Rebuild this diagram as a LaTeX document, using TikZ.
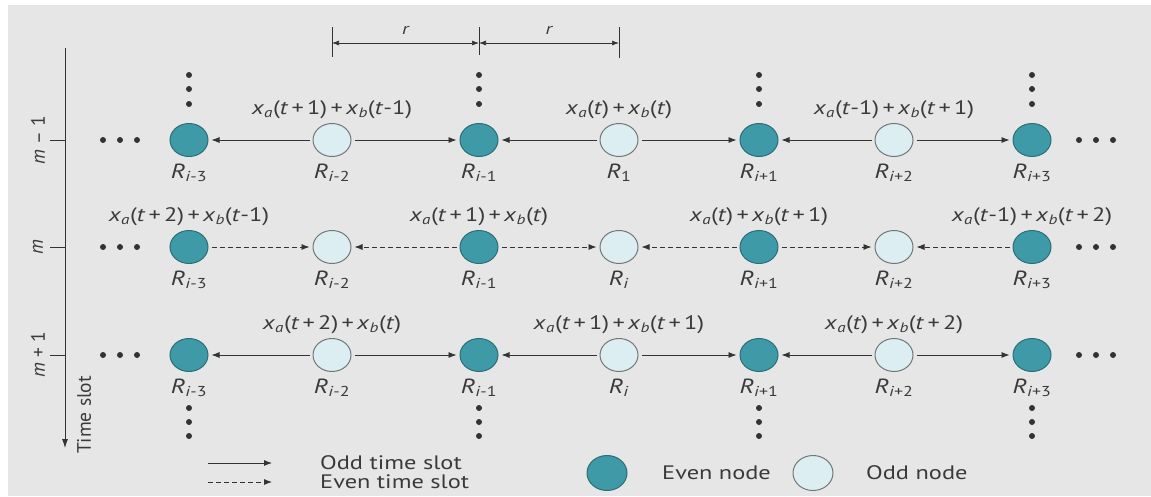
\documentclass[tikz,border=0pt]{standalone}
\usepackage{fontspec}
\setmainfont{PT Sans}[FakeStretch=1.25]
\newfontfamily\uprightsans{PT Sans}[Ligatures=TeX]
\usetikzlibrary{arrows.meta, positioning, shapes.geometric}
\usepackage{xcolor}
\definecolor{cBg}{HTML}{E6E6E6}
\definecolor{cTeal}{HTML}{3E9AA6}
\definecolor{cTealD}{HTML}{2B6E77}
\definecolor{cIce}{HTML}{DCEEF2}
\definecolor{cRim}{HTML}{6E7878}
\definecolor{cLine}{HTML}{333333}
\definecolor{cText}{HTML}{3A3A3A}
\newcommand{\tv}{\textit{t}}
\newcommand{\iv}{\textit{i}}
\newcommand{\pl}{\,+\,}
\newcommand{\xab}[2]{\textit{x}\textsubscript{\textit{a}}(#1)\pl\textit{x}\textsubscript{\textit{b}}(#2)}
\newcommand{\rsub}[1]{\textit{R}\textsubscript{#1}}

\begin{document}
\begin{tikzpicture}[
  x=1pt, y=-1pt, font=\fontsize{19.5}{21}\selectfont, text=cText,
  rnode/.style={ellipse, line width=1pt, minimum width=38pt, minimum height=33pt, inner sep=0pt},
  evennode/.style={rnode, fill=cTeal, draw=cTealD},
  oddnode/.style={rnode, fill=cIce, draw=cRim},
  pick/.code={\ifodd#1 \pgfkeysalso{evennode}\else\pgfkeysalso{oddnode}\fi},
  rlab/.style={inner sep=1pt, font=\fontsize{20.5}{22}\selectfont},
  elab/.style={inner sep=1pt},
  slotlab/.style={rotate=90, font=\uprightsans\fontsize{19.5}{21}\selectfont},
  arr/.style={-{Latex[length=8pt,width=6pt]}, line width=0.8pt, draw=cLine,
              shorten >=3pt, shorten <=3pt},
  darr/.style={arr, dash pattern=on 5pt off 3pt},
  dimarr/.style={{Latex[length=7pt,width=5pt]}-{Latex[length=7pt,width=5pt]}, line width=0.7pt, draw=cLine},
  dot/.style={fill=cLine},
]
\useasboundingbox (0,0) rectangle (1151,496);
\fill[cBg] (8,5) rectangle (1151,496);

% relay nodes, one row per time slot
\foreach \row/\y/\cs in {a/140/1, b/247/\iv, c/355/\iv} {
  \foreach \x/\s [count=\k] in {189/{\iv-3}, 332/{\iv-2}, 479/{\iv-1}, 619/{\cs},
                                 759/{\iv+1}, 894/{\iv+2}, 1032/{\iv+3}} {
    \node[pick=\k, label={[rlab, label distance=6pt]below:\rsub{\s}}] (\row\k) at (\x,\y) {};
  }
}

% odd time slots: odd nodes send to both sides
\foreach \k/\l/\r in {2/1/3, 4/3/5, 6/5/7} {
  \draw[arr] (a\k) -- (a\l);
  \draw[arr] (a\k) -- (a\r);
  \draw[arr] (c\k) -- (c\l);
  \draw[arr] (c\k) -- (c\r);
}
% even time slot: even nodes send to both sides
\foreach \k/\l/\r in {2/1/3, 4/3/5, 6/5/7} {
  \draw[darr] (b\l) -- (b\k);
  \draw[darr] (b\r) -- (b\k);
}

\node[elab, above=3pt of a2] (la2) {\xab{\tv\pl1}{\tv-1}};
\node[elab, above=3pt of a4] (la4) {\xab{\tv}{\tv}};
\node[elab, above=3pt of a6] (la6) {\xab{\tv-1}{\tv\pl1}};
\node[elab, above=3pt of b1] (lb1) {\xab{\tv\pl2}{\tv-1}};
\node[elab, above=3pt of b3] (lb3) {\xab{\tv\pl1}{\tv}};
\node[elab, above=3pt of b5] (lb5) {\xab{\tv}{\tv\pl1}};
\node[elab, above=3pt of b7] (lb7) {\xab{\tv-1}{\tv\pl2}};
\node[elab, above=3pt of c2] (lc2) {\xab{\tv\pl2}{\tv}};
\node[elab, above=3pt of c4] (lc4) {\xab{\tv\pl1}{\tv\pl1}};
\node[elab, above=3pt of c6] (lc6) {\xab{\tv}{\tv\pl2}};

% continuation dots
\foreach \x in {189,479,759,1032}
  \foreach \y in {75,89,104,408,422,436}
    \fill[dot] (\x,\y) circle (3);
\foreach \y in {140,247,355}
  \foreach \x in {103,120,137,1079,1096,1113}
    \fill[dot] (\x,\y) circle (3);

% spacing r
\draw[line width=0.7pt, cLine] (332,27) -- (332,57) (479,27) -- (479,55) (619,27) -- (619,58);
\coordinate (dl) at (332,43);
\coordinate (dm) at (479,43);
\coordinate (dr) at (619,43);
\draw[dimarr] (dl) -- node[above=5pt, font=\itshape\fontsize{16}{18}\selectfont] (rl) {r} (dm);
\draw[dimarr] (dm) -- node[above=5pt, font=\itshape\fontsize{16}{18}\selectfont] (rr) {r} (dr);

% time axis
\coordinate (tTop) at (65,48);
\coordinate (tEnd) at (65,448);
\draw[-{Latex[length=9pt,width=6pt]}, line width=0.8pt, cLine] (tTop) -- (tEnd);
\foreach \y in {140,247,355}
  \draw[line width=0.8pt, cLine] (50,\y) -- (65,\y);
\node[slotlab] (sm1) at (38,140) {\textit{m} \textendash{} 1};
\node[slotlab] (sm)  at (38,247) {\textit{m}};
\node[slotlab] (sm2) at (38,355) {\textit{m} + 1};
\node[slotlab] (tslot) at (84,415) {Time slot};

% legend
\coordinate (oS) at (208,463);
\coordinate (oE) at (272,463);
\coordinate (eS) at (208,482);
\coordinate (eE) at (272,482);
\draw[arr, shorten <=0pt, shorten >=0pt] (oS) -- (oE);
\draw[darr, shorten <=0pt, shorten >=0pt] (eS) -- (eE);
\node[anchor=west, inner sep=0pt] (lodd) at (320,463) {Odd time slot};
\node[anchor=west, inner sep=0pt] (leven) at (320,482) {Even time slot};
\node[evennode, minimum width=40pt, minimum height=35pt] (legE) at (607,473) {};
\node[anchor=west, inner sep=0pt] (legEt) at (662,473) {Even node};
\node[oddnode, minimum width=40pt, minimum height=35pt] (legO) at (813,473) {};
\node[anchor=west, inner sep=0pt] (legOt) at (866,473) {Odd node};
\end{tikzpicture}
\end{document}
